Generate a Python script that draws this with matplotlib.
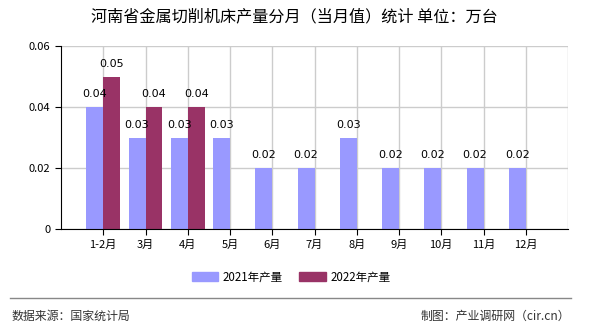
import numpy as np
from matplotlib import pyplot as plt
from matplotlib.lines import Line2D
from matplotlib.ticker import FuncFormatter

plt.rcParams['font.family'] = ['Noto Sans CJK SC', 'DejaVu Sans']

months = ["1-2月", "3月", "4月", "5月", "6月", "7月", "8月", "9月", "10月", "11月", "12月"]
output_2021 = [0.04, 0.03, 0.03, 0.03, 0.02, 0.02, 0.03, 0.02, 0.02, 0.02, 0.02]
output_2022 = [0.05, 0.04, 0.04]

color_2021 = "#9999FF"
color_2022 = "#993366"

fig = plt.figure(figsize=(5.9, 3.3), dpi=100)
ax = fig.add_axes([61 / 590, 1 - 229 / 330, 507 / 590, 183 / 330])

x = np.arange(len(months))
width = 0.4
ax.bar(x - width / 2, output_2021, width, color=color_2021, zorder=2, label="2021年产量")
ax.bar(x[:len(output_2022)] + width / 2, output_2022, width, color=color_2022, zorder=2,
       label="2022年产量")

for xi, v in zip(x, output_2021):
    ax.text(xi - width / 2, v + 0.0025, f"{v:.2f}", ha="center", va="bottom", fontsize=8,
            family="DejaVu Sans", zorder=3)
for xi, v in zip(x, output_2022):
    ax.text(xi + width / 2, v + 0.0025, f"{v:.2f}", ha="center", va="bottom", fontsize=8,
            family="DejaVu Sans", zorder=3)

ax.set_xlim(-1, 11)
ax.set_ylim(0, 0.06)
ax.set_yticks([0, 0.02, 0.04, 0.06])
ax.yaxis.set_major_formatter(FuncFormatter(lambda v, p: "0" if v == 0 else f"{v:.2f}"))
ax.set_xticks(x)
ax.set_xticklabels(months, fontsize=8)
ax.tick_params(axis="y", labelsize=8, length=4)
ax.tick_params(axis="x", length=4)

# grid at category centres plus the right edge
ax.grid(axis="y", color="#cccccc", linewidth=1, zorder=0)
for gx in list(x) + [11]:
    ax.axvline(gx, color="#cccccc", linewidth=1, zorder=0)
ax.spines["top"].set_visible(False)
ax.spines["right"].set_visible(False)
ax.spines["left"].set_color("black")
ax.spines["bottom"].set_color("black")
ax.set_axisbelow(True)

fig.text(294 / 590, 1 - 17 / 330, "河南省金属切削机床产量分月（当月值）统计 单位：万台",
         ha="center", va="center", fontsize=11.6)

handles = [plt.Rectangle((0, 0), 1, 1, color=color_2021),
           plt.Rectangle((0, 0), 1, 1, color=color_2022)]
fig.legend(handles, ["2021年产量", "2022年产量"], loc="center", ncol=2,
           bbox_to_anchor=(291 / 590, 1 - 277 / 330), frameon=False, fontsize=8.3,
           handlelength=2.3, handleheight=0.7, columnspacing=1.4, handletextpad=0.4)

fig.add_artist(Line2D([10 / 590, 571 / 590], [1 - 298 / 330, 1 - 298 / 330],
                      color="#888888", linewidth=1))
fig.text(12 / 590, 1 - 316 / 330, "数据来源：国家统计局", ha="left", va="center",
         fontsize=8.6, color="#333333")
fig.text(570 / 590, 1 - 316 / 330, "制图：产业调研网（cir.cn）", ha="right", va="center",
         fontsize=8.6, color="#333333")

fig.savefig("out.png", dpi=100)
